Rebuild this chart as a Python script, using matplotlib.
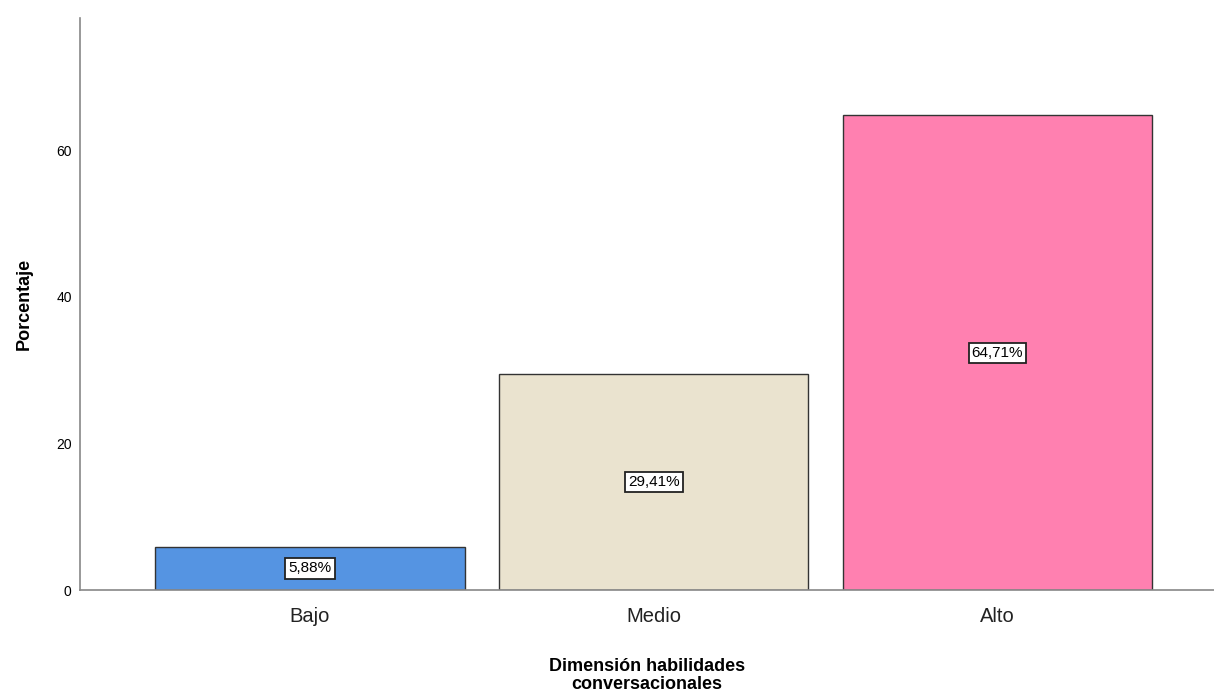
import matplotlib
matplotlib.use("Agg")
import matplotlib.pyplot as plt

plt.rcParams['font.family'] = ['Liberation Sans', 'DejaVu Sans']

categories = ["Bajo", "Medio", "Alto"]
percentages = [5.88, 29.41, 64.71]
colors = ["#5594E2", "#EAE3CF", "#FF80B0"]
yticks = [0, 20, 40, 60]

fig = plt.figure(figsize=(12.14, 6.93), dpi=100)
ax = fig.add_axes([0.0659, 0.1486, 0.9341, 0.8254])

x = list(range(len(categories)))
ax.bar(x, percentages, width=0.9, color=colors, edgecolor="#333333", linewidth=1.0, zorder=2)

for xi, p in zip(x, percentages):
    ax.text(xi, p / 2, f"{p:.2f}%".replace(".", ","), ha="center", va="center", fontsize=11,
            bbox=dict(boxstyle="square,pad=0.2", facecolor="white", edgecolor="#222222", linewidth=1.3),
            zorder=3)

ax.set_xlim(-0.669, 2.63)
ax.set_ylim(0, 78)
ax.set_xticks(x)
ax.set_xticklabels(categories, fontsize=14.5, color="#222222")
ax.set_yticks(yticks)
ax.tick_params(axis="y", labelsize=10, length=0, pad=6)
ax.tick_params(axis="x", length=0, pad=12)

for side in ["top", "right"]:
    ax.spines[side].set_visible(False)
for side in ["left", "bottom"]:
    ax.spines[side].set_color("#888888")
    ax.spines[side].set_linewidth(1.2)

ax.set_ylabel("Porcentaje", fontsize=13, fontweight="bold", labelpad=17)
ax.set_xlabel("Dimensión habilidades\nconversacionales", fontsize=13, fontweight="bold",
              labelpad=23, linespacing=1.1)

fig.savefig("out.png", dpi=100)
